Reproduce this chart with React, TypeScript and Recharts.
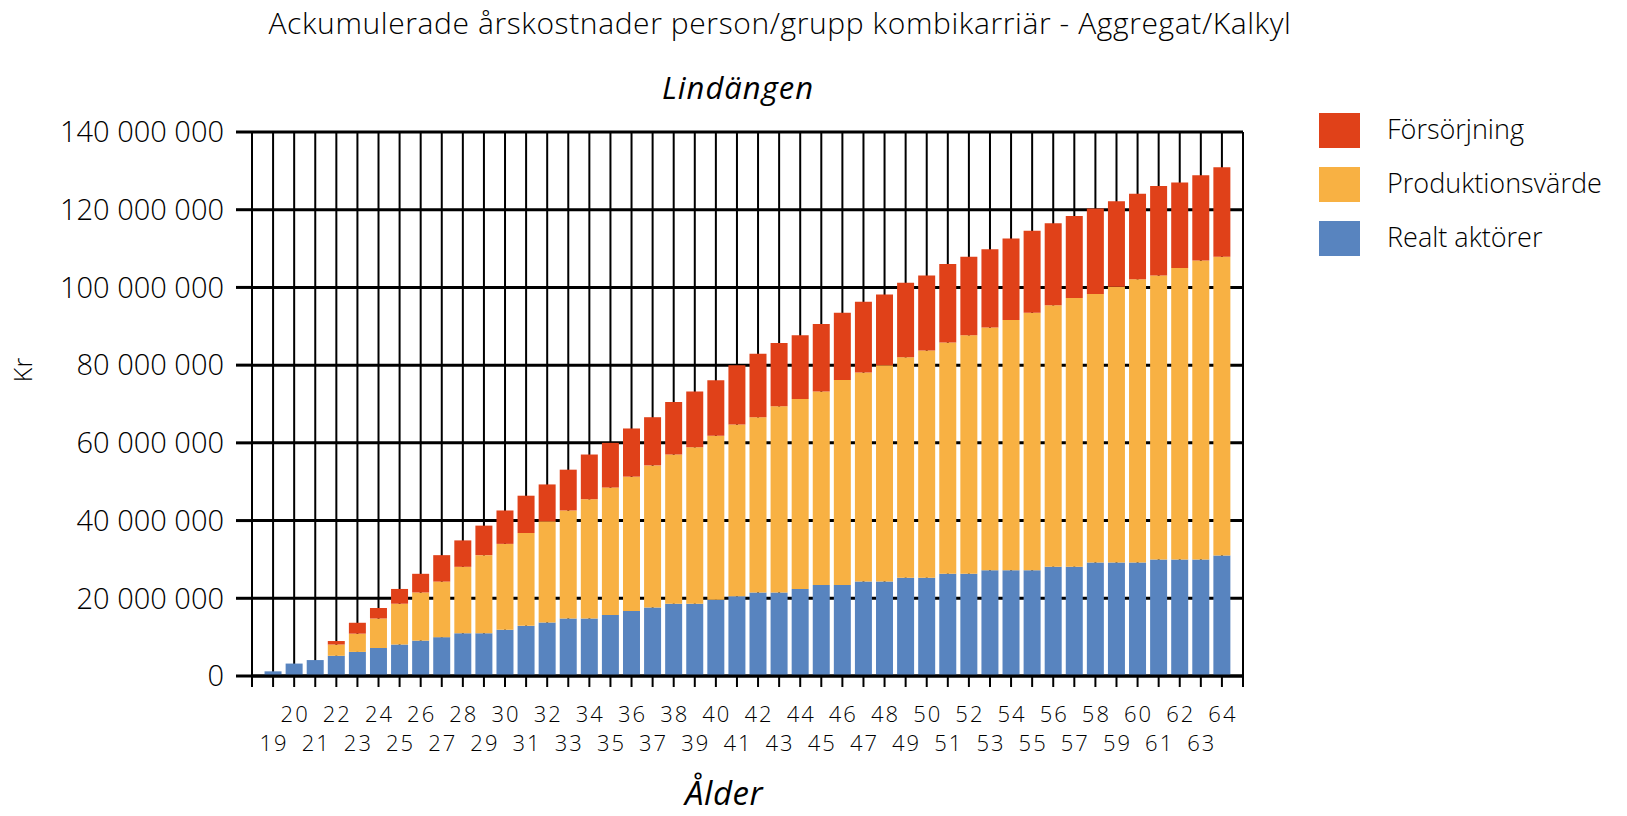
import { BarChart, Bar, XAxis, YAxis, CartesianGrid } from "recharts";

// ages 19..64
const ages = [
  19, 20, 21, 22, 23, 24, 25, 26, 27, 28, 29, 30, 31, 32, 33, 34, 35, 36, 37, 38, 39, 40, 41,
  42, 43, 44, 45, 46, 47, 48, 49, 50, 51, 52, 53, 54, 55, 56, 57, 58, 59, 60, 61, 62, 63, 64,
];

// cumulative levels (Mkr)
const realt = [
  1.2, 3.2, 4.1, 5.2, 6.2, 7.2, 8.1, 9.1, 10.0, 11.0, 11.0, 11.9, 12.9, 13.8, 14.8, 14.8, 15.7,
  16.7, 17.6, 18.6, 18.6, 19.6, 20.5, 21.5, 21.5, 22.4, 23.4, 23.4, 24.3, 24.3, 25.3, 25.3, 26.3,
  26.3, 27.2, 27.2, 27.2, 28.1, 28.1, 29.2, 29.2, 29.2, 30.0, 30.0, 30.0, 31.0,
];
// top of the Produktionsvärde segment
const produktionTop = [
  1.2, 3.2, 4.1, 8.1, 10.9, 14.8, 18.6, 21.5, 24.3, 28.1, 31.1, 34.0, 36.8, 39.8, 42.6, 45.5,
  48.5, 51.3, 54.2, 57.0, 58.9, 61.8, 64.7, 66.6, 69.4, 71.3, 73.2, 76.2, 78.1, 80.0, 82.0, 83.8,
  85.8, 87.7, 89.7, 91.6, 93.5, 95.4, 97.3, 98.3, 100.2, 102.1, 103.1, 105.0, 106.9, 107.9,
];
// top of the whole bar
const totalTop = [
  1.2, 3.2, 4.1, 9.0, 13.7, 17.5, 22.4, 26.3, 31.1, 34.9, 38.7, 42.6, 46.4, 49.3, 53.1, 57.0,
  60.0, 63.7, 66.6, 70.5, 73.2, 76.1, 80.0, 82.9, 85.7, 87.7, 90.6, 93.5, 96.3, 98.2, 101.2,
  103.1, 106.0, 107.9, 109.8, 112.6, 114.6, 116.5, 118.4, 120.3, 122.2, 124.1, 126.1, 127.0,
  128.9, 130.9,
];

const xTicks = [18, ...ages, 65];
const yTicks = [0, 20e6, 40e6, 60e6, 80e6, 100e6, 120e6, 140e6];

const series = [
  { key: "forsorjning", name: "Försörjning", color: "#E04119" },
  { key: "produktion", name: "Produktionsvärde", color: "#F8B143" },
  { key: "realt", name: "Realt aktörer", color: "#5884BF" },
];

const data = ages.map((age, i) => ({
  age,
  realt: realt[i] * 1e6,
  produktion: (produktionTop[i] - realt[i]) * 1e6,
  forsorjning: (totalTop[i] - produktionTop[i]) * 1e6,
}));

const FONT = "'Open Sans', sans-serif";

const fmt = (v: number) => String(Math.round(v)).replace(/\B(?=(\d{3})+(?!\d))/g, " ");

// even ages on the upper row, odd ages on the lower one
function AgeTick(props: any) {
  const { x, y, payload } = props;
  const v = payload.value;
  if (v < 19 || v > 64) return null;
  const dy = v % 2 === 0 ? 24 : 53;
  return (
    <text
      x={x + 1}
      y={y + dy}
      textAnchor="middle"
      dominantBaseline="central"
      fontFamily={FONT}
      fontWeight={300}
      fontSize={22}
      letterSpacing={2}
      fill="#000"
    >
      {v}
    </text>
  );
}

export default function App() {
  return (
    <div style={{ position: "absolute", left: 0, top: 0, width: 1627, height: 816, background: "#fff", fontFamily: FONT, color: "#000" }}>
      <div style={{ position: "absolute", left: 0, width: 1560, top: 2, textAlign: "center", fontSize: 30, fontWeight: 300, letterSpacing: 0.6 }}>
        Ackumulerade årskostnader person/grupp kombikarriär - Aggregat/Kalkyl
      </div>
      <div style={{ position: "absolute", left: 0, width: 1476, top: 66, textAlign: "center", fontSize: 31, fontStyle: "italic", letterSpacing: 1 }}>
        Lindängen
      </div>
      <div style={{ position: "absolute", left: 22, top: 370, transform: "translate(-50%,-50%) rotate(-90deg)", fontSize: 25, fontWeight: 300 }}>
        Kr
      </div>
      <div style={{ position: "absolute", left: 0, width: 1448, top: 770, textAlign: "center", fontSize: 33, fontStyle: "italic", letterSpacing: 0.5 }}>
        Ålder
      </div>

      <BarChart
        width={1627}
        height={816}
        data={data}
        margin={{ top: 132, right: 384, bottom: 40, left: 12 }}
      >
        <CartesianGrid horizontal={true} vertical={false} stroke="#000" strokeWidth={3} />
        <CartesianGrid horizontal={false} vertical={true} stroke="#000" strokeWidth={2} />
        <XAxis
          dataKey="age"
          type="number"
          domain={[18, 65]}
          ticks={xTicks}
          interval={0}
          height={100}
          tickSize={11}
          tickMargin={2}
          axisLine={{ stroke: "#000", strokeWidth: 3 }}
          tickLine={{ stroke: "#000", strokeWidth: 2 }}
          tick={<AgeTick />}
        />
        <YAxis
          type="number"
          domain={[0, 140e6]}
          ticks={yTicks}
          interval={0}
          width={240}
          tickSize={16}
          tickMargin={12}
          axisLine={false}
          tickLine={{ stroke: "#000", strokeWidth: 3 }}
          tickFormatter={fmt}
          tick={{ fontFamily: FONT, fontWeight: 300, fontSize: 29, fill: "#000" }}
        />
        <Bar dataKey="realt" stackId="a" fill={series[2].color} barSize={17} isAnimationActive={false} />
        <Bar dataKey="produktion" stackId="a" fill={series[1].color} barSize={17} isAnimationActive={false} />
        <Bar dataKey="forsorjning" stackId="a" fill={series[0].color} barSize={17} isAnimationActive={false} />
      </BarChart>

      <div style={{ position: "absolute", left: 1319, top: 112 }}>
        {series.map((s) => (
          <div key={s.key} style={{ display: "flex", alignItems: "center", height: 36, marginBottom: 18 }}>
            <div style={{ width: 41, height: 35, background: s.color }} />
            <div style={{ marginLeft: 27, marginTop: -4, fontSize: 27, fontWeight: 300 }}>{s.name}</div>
          </div>
        ))}
      </div>
    </div>
  );
}
